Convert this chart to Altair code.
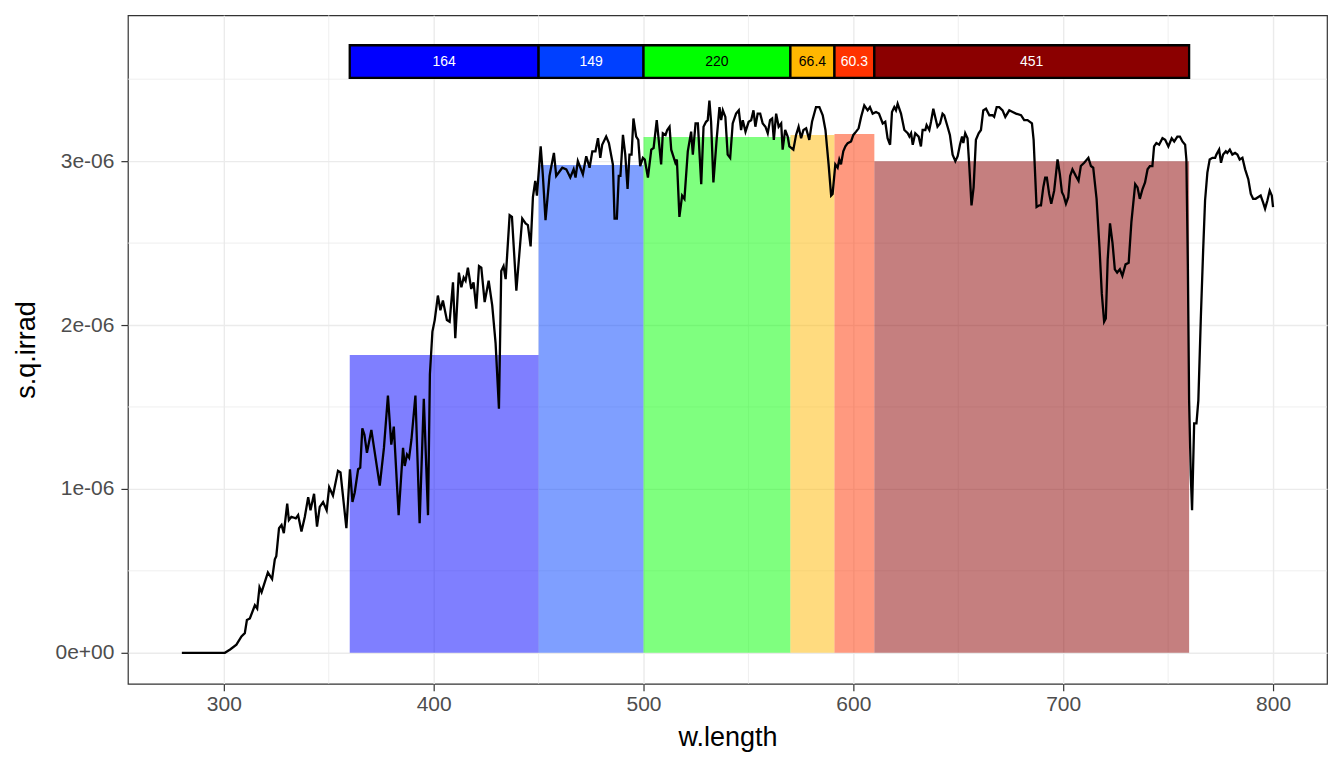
import altair as alt
import pandas as pd

# ---- spectrum (w.length in nm, s.q.irrad in units of 1e-6) ----
wl = [280, 290, 300, 300.5, 303, 306, 308.4, 310, 311, 312.4, 314.8, 315.9, 317, 318, 321, 323, 324.3, 325,
      326.3, 327.5, 328.6, 330.2, 331, 332.2, 334.3, 335.4, 337, 338.6, 340.2, 341.3, 343, 344.4, 345.7, 347.3,
      349, 350.2, 352, 354.4, 355.6, 358.4, 360.1, 361.3, 362.4, 364, 365, 366, 367, 368.2, 370.3, 374.3, 376.3,
      378.2, 379.8, 381, 383.3, 385.4, 386.2, 387.3, 388.3, 389.4, 391.3, 393.3, 395.3, 397.3, 398.2, 399.4,
      400.5, 402, 403.2, 404.4, 406.3, 407.6, 409.2, 410.3, 412, 413.2, 414.3, 415.2, 416.3, 417.9, 419, 420.3,
      421.6, 422.7, 424.3, 426.2, 427.9, 429.5, 431.1, 432.2, 433.3, 434.3, 436.2, 437.3, 439.4, 442.2, 443.8,
      444.9, 446.2, 447.3, 448.4, 449.2, 451, 452, 453.3, 455.2, 457.3, 458.4, 461.3, 463.2, 465.1, 466.7, 467.6,
      468.7, 471.1, 472.7, 474.3, 475.6, 477.1, 478.3, 479.4, 480.3, 482.2, 483.5, 485.4, 486.2, 487.3, 488.2,
      489, 490.2, 491.3, 492.4, 493.3, 494.3, 495.2, 496.5, 497.5, 498.4, 499.7, 500.6, 502.1, 503.7, 504.8,
      506.3, 508.4, 509.2, 510.5, 511.3, 512.4, 513.2, 515.2, 515.9, 517.1, 518.4, 519.5, 521.1, 522.7, 523.5,
      524.8, 525.9, 527.5, 528.6, 529.8, 530.6, 531.4, 532.2, 533.3, 534.9, 536.2, 537, 537.8, 539, 540.1, 541.3,
      542.5, 544.1, 545.4, 546.5, 547.3, 548.6, 550.1, 551.3, 552.4, 553.3, 554.4, 555.6, 556.8, 558.1, 559.2,
      560.3, 561.3, 562.1, 563.2, 564.4, 565.6, 566.3, 567.5, 568.7, 569.5, 571.4, 572.7, 573.9, 575.1, 576.2,
      577.5, 579, 580.3, 582.2, 583.8, 585.4, 586.7, 588.2, 589.4, 590.1, 591.4, 592.5, 593.3, 594.1, 595.2,
      596.2, 597.3, 598.9, 600, 601.3, 602.5, 603.7, 605.2, 606.8, 607.9, 609.2, 610.8, 612.2, 614, 615.2, 616.3,
      617.5, 618.4, 619.5, 620.3, 621.1, 622.7, 624.3, 625.9, 626.7, 627.5, 628.3, 629.5, 631.1, 632.2, 633,
      634.3, 634.9, 636.2, 637, 638.1, 639, 640.1, 641.3, 642.5, 643.3, 644.9, 646, 647.3, 648.6, 649.7, 650.8,
      651.8, 652.4, 653.3, 654.4, 655.2, 656.3, 657.3, 658.4, 659.7, 660.8, 661.9, 663.2, 664.8, 666.3, 667.1,
      668.3, 669.5, 671.1, 672.4, 674.3, 675.9, 677.5, 679.9, 681.4, 683, 685.1, 685.9, 687.3, 688.6, 689.4,
      690.5, 691.4, 692.2, 693.3, 694.3, 695.7, 697.3, 698.4, 699.4, 700.2, 701.3, 702.4, 703.3, 704.4, 706,
      707.3, 708.4, 710, 712, 713.2, 714.3, 715.9, 717.3, 718.4, 719.5, 720.3, 721.2, 722.3, 723.5, 724.6, 725.7,
      727, 728.2, 729.7, 731.2, 732.5, 734.3, 735.4, 736.5, 737.8, 739, 740.2, 741.3, 742.5, 743.3, 744.4, 745.7,
      747.3, 748.6, 750.1, 751.7, 752.9, 754.4, 755.6, 756.8, 758.1, 758.7, 759.4, 760, 760.8, 761.4, 762.4,
      763.5, 764.4, 765.6, 766.7, 767.6, 768.7, 769.8, 771.1, 772.4, 773, 774.3, 775.2, 776.2, 777.5, 778.2,
      779.4, 780.6, 781.9, 783, 784.1, 785.4, 786.7, 788.2, 789.4, 790.5, 791.7, 794.1, 795.2, 796.2, 797.3,
      798.4, 799.4, 800]
irrad_e6 = [0, 0, 0, 0.0, 0.02, 0.05, 0.10, 0.12, 0.20, 0.21, 0.29, 0.27, 0.40, 0.37, 0.49, 0.45, 0.57, 0.59,
            0.76, 0.78, 0.73, 0.91, 0.81, 0.83, 0.82, 0.84, 0.74, 0.83, 0.95, 0.87, 0.97, 0.77, 0.89, 0.92,
            0.87, 1.01, 0.96, 1.11, 1.10, 0.76, 1.12, 0.92, 0.98, 1.12, 1.13, 1.37, 1.33, 1.22, 1.36, 1.02, 1.25,
            1.57, 1.27, 1.38, 0.84, 1.25, 1.14, 1.21, 1.19, 1.30, 1.57, 0.79, 1.55, 0.84, 1.70, 1.96,
            2.03, 2.18, 2.09, 2.15, 2.03, 2.02, 2.26, 1.92, 2.32, 2.23, 2.29, 2.27, 2.35, 2.22, 2.26, 2.10,
            2.36, 2.35, 2.14, 2.27, 2.12, 1.89, 1.49, 2.33, 2.36, 2.28, 2.67, 2.66, 2.21, 2.65, 2.62,
            2.61, 2.48, 2.78, 2.88, 2.79, 3.09, 2.92, 2.64, 2.91, 3.05, 2.91, 2.96, 2.95, 2.90, 2.95, 2.90,
            3.00, 2.92, 3.03, 2.96, 3.06, 3.06, 3.14, 3.02, 3.10, 3.15, 3.11, 2.98, 2.65, 2.65, 2.91,
            2.91, 3.16, 3.04, 2.83, 3.04, 3.04, 3.26, 3.15, 3.13, 2.97, 3.02, 3.01, 2.90, 3.07, 3.08,
            3.25, 2.98, 3.17, 3.16, 3.19, 3.21, 3.07, 2.99, 3.01, 2.66, 2.79, 2.77, 3.06, 3.18, 3.04,
            3.23, 3.23, 2.86, 3.21, 3.24, 3.25, 3.37, 3.24, 2.87, 3.14, 3.33, 3.25, 3.31, 3.27, 3.04, 3.02,
            3.23, 3.29, 3.31, 3.19, 3.25, 3.18, 3.24, 3.25, 3.31, 3.21, 3.29, 3.29, 3.23, 3.21, 3.17,
            3.25, 3.26, 3.13, 3.29, 3.21, 3.23, 3.07, 3.19, 3.15, 3.09, 3.07, 3.16, 3.21, 3.14, 3.19,
            3.20, 3.13, 3.24, 3.33, 3.33, 3.28, 3.19, 2.98, 2.79, 2.80, 2.98, 2.96, 3.01, 2.98, 3.06,
            3.09, 3.11, 3.12, 3.16, 3.18, 3.20, 3.27, 3.34, 3.31, 3.33, 3.29, 3.30, 3.29, 3.23, 3.24, 3.14,
            3.10, 3.30, 3.33, 3.31, 3.35, 3.29, 3.19, 3.17, 3.15, 3.17, 3.10, 3.17, 3.15, 3.09, 3.19,
            3.19, 3.22, 3.19, 3.24, 3.32, 3.27, 3.21, 3.23, 3.29, 3.28, 3.21, 3.16, 3.04, 3.00, 3.03, 3.10,
            3.15, 3.11, 3.17, 3.14, 2.98, 2.73, 2.84, 3.13, 3.17, 3.19, 3.31, 3.32, 3.28, 3.28, 3.27,
            3.33, 3.33, 3.31, 3.27, 3.31, 3.30, 3.29, 3.28, 3.25, 3.25, 3.23, 3.13, 2.72, 2.73, 2.73,
            2.84, 2.90, 2.90, 2.80, 2.74, 2.82, 3.01, 2.92, 2.81, 2.79, 2.74, 2.78, 2.91, 2.95, 2.91,
            2.88, 2.97, 2.99, 3.02, 2.97, 2.96, 2.77, 2.47, 2.19, 2.02, 2.04, 2.40, 2.62, 2.50, 2.34, 2.32,
            2.34, 2.30, 2.37, 2.38, 2.63, 2.86, 2.84, 2.77, 2.83, 2.87, 2.95, 2.97, 2.97, 3.09, 3.11, 3.10,
            3.14, 3.13, 3.09, 3.14, 3.12, 3.15, 3.15, 3.12, 3.10, 3.01, 2.36, 1.54, 1.08, 0.87, 1.40,
            1.40, 1.54, 2.05, 2.46, 2.76, 2.93, 3.01, 3.02, 3.02, 3.04, 3.07, 2.99, 3.04, 3.06, 3.05,
            3.07, 3.04, 3.05, 3.04, 3.01, 3.02, 2.95, 2.89, 2.80, 2.77, 2.77, 2.79, 2.75, 2.71, 2.76,
            2.82, 2.79, 2.72]

# ---- wavebands ----
band_lo = [360, 450, 500, 570, 591, 610]
band_hi = [450, 500, 570, 591, 610, 760]
band_mean_e6 = [1.817, 2.976, 3.148, 3.160, 3.165, 3.000]
band_color = ["#0000FF", "#0040FF", "#00FF00", "#FFB700", "#FF3300", "#8B0000"]
band_label = ["164", "149", "220", "66.4", "60.3", "451"]
label_color = ["white", "white", "black", "black", "white", "white"]

# ---- axis ticks / grid ----
x_major = [300, 400, 500, 600, 700, 800]
x_minor = [350, 450, 550, 650, 750]
y_major_e6 = [0, 1, 2, 3]
y_minor_e6 = [0.5, 1.5, 2.5, 3.5]

E = 1e-6
spec = pd.DataFrame({"wl": wl, "irrad": [v * E for v in irrad_e6]})
bands = pd.DataFrame({
    "lo": band_lo, "hi": band_hi,
    "mid": [(a + b) / 2 for a, b in zip(band_lo, band_hi)],
    "mean": [v * E for v in band_mean_e6],
    "base": [0.0] * len(band_lo),
    "color": band_color, "label": band_label, "tcolor": label_color,
    "ylo": [3.508 * E] * len(band_lo), "yhi": [3.707 * E] * len(band_lo),
    "ymid": [3.607 * E] * len(band_lo),
})
xminor = pd.DataFrame({"x": x_minor})
yminor = pd.DataFrame({"y": [v * E for v in y_minor_e6]})

xs = alt.Scale(domain=[254.29, 825.71], nice=False, zero=False)
ys = alt.Scale(domain=[-0.189 * E, 3.890 * E], nice=False, zero=False)

x_axis = alt.Axis(values=x_major, title="w.length", grid=True, gridColor="#EBEBEB", gridWidth=1.4,
                  domain=False, tickColor="#333333", tickWidth=1.2, tickSize=7,
                  labelColor="#4D4D4D", labelFont="Liberation Sans", labelFontSize=21,
                  labelPadding=3, titleFont="Liberation Sans", titleFontSize=27, titleColor="black",
                  titleFontWeight="normal", titlePadding=10)
y_axis = alt.Axis(values=[v * E for v in y_major_e6], title="s.q.irrad", grid=True, gridColor="#EBEBEB",
                  gridWidth=1.4, domain=False, tickColor="#333333", tickWidth=1.2, tickSize=7,
                  labelColor="#4D4D4D", labelFont="Liberation Sans", labelFontSize=21,
                  labelPadding=7,
                  labelExpr="datum.value == 0 ? '0e+00' : (round(datum.value * 1000000) + 'e-06')",
                  titleFont="Liberation Sans", titleFontSize=27, titleColor="black",
                  titleFontWeight="normal", titlePadding=14)


def X(field):
    return alt.X(field, type="quantitative", scale=xs, axis=x_axis)


def Y(field):
    return alt.Y(field, type="quantitative", scale=ys, axis=y_axis)


grid_minor_x = alt.Chart(xminor).mark_rule(color="#EBEBEB", strokeWidth=0.8).encode(x=X("x"))
grid_minor_y = alt.Chart(yminor).mark_rule(color="#EBEBEB", strokeWidth=0.8).encode(y=Y("y"))

bars = alt.Chart(bands).mark_rect(opacity=0.5).encode(
    x=X("lo"), x2="hi", y=Y("base"), y2="mean",
    color=alt.Color("color:N", scale=None, legend=None))

line = alt.Chart(spec).mark_line(color="black", strokeWidth=2.3).encode(x=X("wl"), y=Y("irrad"))

boxes = alt.Chart(bands).mark_rect(stroke="black", strokeWidth=2.3).encode(
    x=X("lo"), x2="hi", y=Y("ylo"), y2="yhi",
    color=alt.Color("color:N", scale=None, legend=None))

labels = alt.Chart(bands).mark_text(font="Liberation Sans", fontSize=14, baseline="middle").encode(
    x=X("mid"), y=Y("ymid"), text="label:N",
    color=alt.Color("tcolor:N", scale=None, legend=None))

chart = alt.layer(grid_minor_x, grid_minor_y, bars, line, boxes, labels).properties(
    width=1200, height=669,
    padding={"left": 5, "top": 6, "right": 8, "bottom": 5},
).configure_view(stroke="#333333", strokeWidth=1.2)

chart.save("out.html", embed_options={"renderer": "svg", "actions": False})
